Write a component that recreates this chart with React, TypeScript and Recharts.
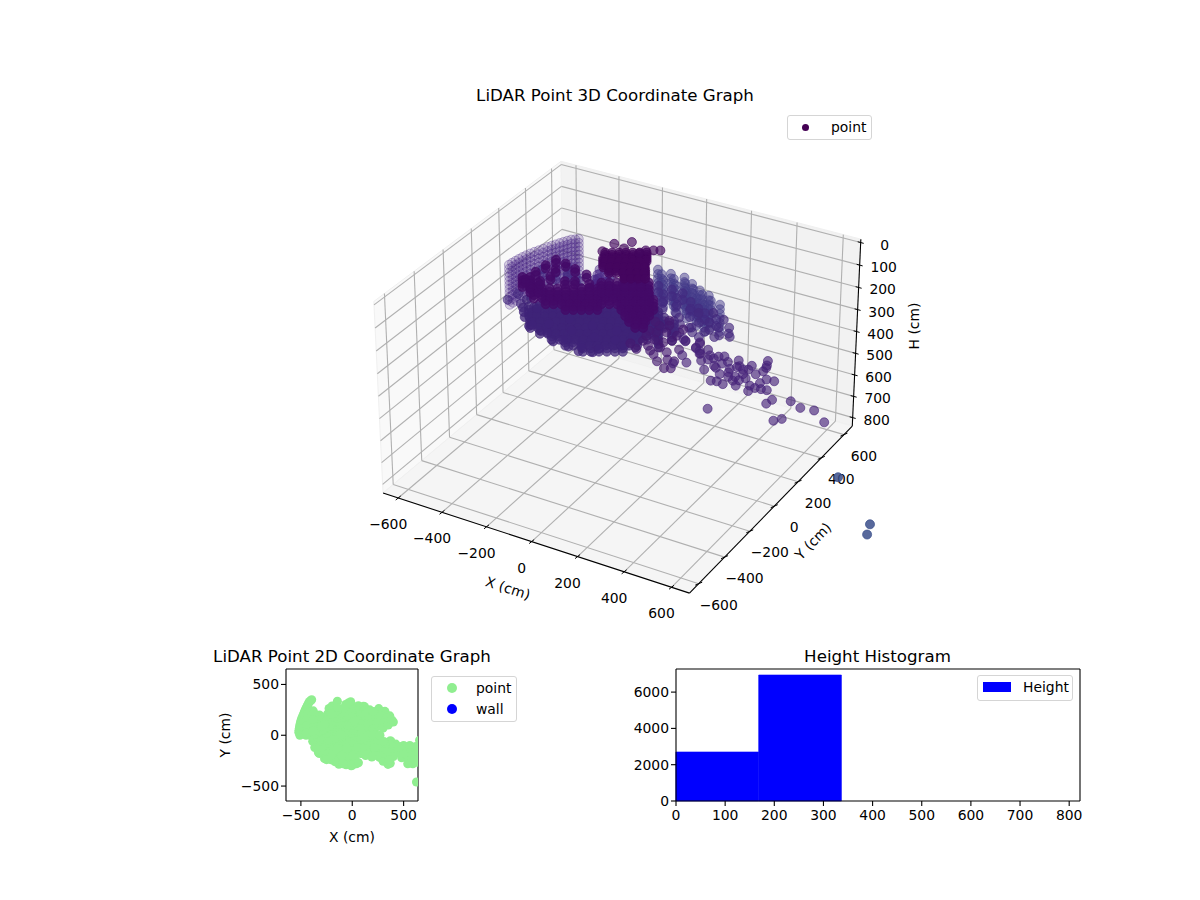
import { Bar, BarChart, ReferenceLine, Scatter, ScatterChart, XAxis, YAxis, ZAxis } from "recharts"

type XY = [number, number]

// height levels (cm) of every group of the LiDAR cloud
const westWallH = [120, 138, 156, 174, 192, 210, 228, 246, 264, 282, 300]
const eastWallH = [120, 140, 160, 180, 200, 220, 240]
const floorH = [275, 290, 305, 320]
const fillNorthH = [195, 225]
const fillMidH = [260]
const fillSouthH = [195]
const rimH = [180]
const eastLobeH = [230]
const lobeH = [170]
const strayH = [170]
const bulgeH = [150, 170, 190]
const ridgeH = [150, 165, 180, 195]
const fingerH = [160, 175]
const towerH = [45, 55, 65, 75, 85]
const towerTipH = [60]
const outlierH = [800]

// x / y footprints (cm)
const westWall: XY[] = [[-520, 30], [-518, 50], [-515, 70], [-512, 90], [-508, 110], [-503, 130], [-497, 150], [-490, 170], [-482, 190], [-474, 210], [-466, 230], [-458, 248], [-450, 265], [-442, 282], [-434, 298], [-426, 314], [-418, 330], [-405, 340], [-395, 350]]
const eastWall: XY[] = [[0, 285], [60, 280], [120, 280], [170, 250], [220, 220], [270, 200], [340, 160], [30, 260], [90, 250], [145, 240], [195, 215], [245, 195], [295, 170], [60, 220], [120, 210], [180, 190], [240, 160], [290, 130]]
const floor: XY[] = [
  [-425, 19], [-399, 34], [-372, 50], [-346, 65], [-319, 80], [-293, 96], [-267, 111], [-240, 126], [-214, 141], [-187, 157], [-161, 172], [-135, 187], [-108, 203], [-82, 218], [-55, 233], [-29, 248], [-3, 263],
  [-390, -13], [-364, 2], [-337, 18], [-311, 33], [-284, 48], [-258, 64], [-232, 79], [-205, 94], [-179, 109], [-152, 125], [-126, 140], [-100, 155], [-73, 171], [-47, 186], [-20, 201], [6, 216], [33, 232],
  [-373, -57], [-347, -42], [-320, -26], [-294, -11], [-267, 4], [-241, 20], [-215, 35], [-188, 50], [-162, 65], [-135, 81], [-109, 96], [-83, 111], [-56, 127], [-30, 142], [-3, 157], [23, 172], [50, 188], [76, 203],
  [-317, -77], [-291, -62], [-264, -46], [-238, -31], [-211, -16], [-185, 0], [-159, 15], [-132, 30], [-106, 45], [-79, 61], [-53, 76], [-27, 91], [0, 107], [26, 122], [53, 137], [79, 152],
  [-254, -94], [-228, -79], [-201, -63], [-175, -48], [-148, -33], [-122, -17], [-96, -2], [-69, 13], [-43, 28], [-16, 44], [10, 59], [36, 74], [63, 90],
  [-185, -107], [-159, -92], [-132, -76], [-106, -61], [-79, -46], [-53, -30], [-27, -15], [0, 0], [26, 15], [53, 31],
  [-103, -113], [-77, -98], [-50, -82], [-24, -67], [3, -52], [29, -37],
  [100, 100], [150, 130], [130, 60], [120, 200],
]
const fillNorth: XY[] = [
  [-60, 290], [0, 290], [60, 290], [110, 285],
  [-380, 240], [-320, 200], [-240, 210], [-190, 240], [-130, 240], [-70, 240], [-10, 240], [50, 240], [110, 240], [170, 240], [220, 210],
  [-460, 180], [-400, 180], [-340, 170], [-280, 170], [-220, 180], [-160, 180], [-100, 180], [-40, 180], [20, 180], [80, 180], [140, 180], [200, 180], [260, 190], [320, 170],
]
const fillMid: XY[] = [
  [-480, 120], [-420, 120], [-360, 120], [-300, 120], [-240, 120], [-180, 120], [-120, 120], [-60, 120], [0, 120], [60, 120], [120, 120],
  [-500, 60], [-440, 60], [-380, 60], [-320, 60], [-260, 60], [-200, 60], [-140, 60], [-80, 60], [-20, 60], [40, 60], [100, 60],
  [-510, 0], [-450, 0], [-390, 0], [-330, 0], [-270, 0], [-210, 0], [-150, 0], [-90, 0], [-30, 0], [30, 0], [90, 0],
]
const fillSouth: XY[] = [
  [-385, -60], [-325, -60], [-265, -60], [-205, -60], [-145, -60], [-85, -60], [-25, -60], [35, -60], [95, -60],
  [-365, -120], [-305, -120], [-245, -120], [-185, -120], [-125, -120], [-65, -120], [-5, -120], [55, -120], [115, -120],
  [-320, -180], [-260, -180], [-200, -180], [-140, -180], [-80, -180], [-20, -180], [40, -180], [100, -180], [160, -170],
  [-270, -230], [-210, -240], [-150, -240], [-90, -240], [-30, -240], [30, -240],
  [-130, -285], [-60, -290], [-10, -300], [40, -280],
]
const rim: XY[] = [[-330, -170], [-250, -240], [-170, -260], [-90, -280], [0, -295], [60, -270], [130, -200], [-300, -120], [-200, -200], [-100, -200], [0, -200], [80, -180], [-150, -130], [-50, -130], [50, -120], [120, -120]]
const eastLobe: XY[] = [[162, 163], [247, 168], [318, 235], [365, 191], [258, 262], [209, 234], [233, 115], [307, 140], [219, 63], [148, 111], [280, 190], [330, 170], [190, 120], [260, 90], [240, 120], [300, 120], [360, 120], [200, 60], [300, 70], [350, 100], [385, 150], [400, 130]]
const lobe: XY[] = [[181, -150], [216, -173], [265, -218], [301, -256], [348, -287], [370, -275], [356, -224], [328, -226], [261, -162], [253, -122], [193, -69], [164, -71], [173, -110], [275, -95], [272, -53], [319, -70], [377, -95], [375, -61], [411, -129], [226, -50], [178, -19], [192, 33], [150, 0], [210, 0], [270, 0], [300, -180], [240, -200], [330, -140], [215, -120], [150, -190], [190, -215]]
const stray: XY[] = [[424, -87], [371, -54], [413, -126], [379, -99], [320, -74], [306, -62], [458, -150], [473, -133], [482, -112], [517, -151], [530, -129], [512, -189], [481, -222], [561, -273], [546, -222], [568, -195], [582, -223], [577, -146], [582, -135], [605, -151], [622, -141], [661, -157], [604, -211], [628, -226], [636, -266], [643, -202], [680, -240], [704, -246], [704, -206], [727, -242], [749, -238], [713, -171], [743, -168], [675, -125], [673, -97], [655, -49], [667, -80], [693, -277], [791, -323], [797, -289], [860, -264], [911, -288], [962, -279], [1030, -334], [625, -460], [868, -415], [888, -389],
  [400, -110], [440, -170], [360, -170], [400, -210], [360, -240], [500, -100], [560, -100], [620, -110], [560, -170], [500, -180], [620, -180], [590, -280], [540, -280], [450, -120], [610, -240]]
const bulge: XY[] = [[-224, 220], [-171, 180], [-192, 150], [-196, 263], [-226, 263], [-150, 140], [-210, 180]]
const ridge: XY[] = [
  [-366, -38], [-339, -22], [-313, -7], [-286, 8], [-260, 24], [-234, 39], [-207, 54], [-181, 69], [-154, 85], [-128, 100], [-102, 115], [-75, 131], [-49, 146], [-22, 161], [4, 176],
  [-402, -6], [-375, 10], [-164, 132], [-138, 147], [-112, 162], [-85, 178], [-59, 193], [-32, 208], [-6, 224],
  [-303, -54], [-277, -39], [-250, -24], [-224, -8], [-198, 7], [-171, 22], [-145, 37], [-118, 53], [-92, 68], [-66, 83], [-39, 99], [-13, 114], [14, 129], [40, 144],
  [-214, -55], [-188, -40], [-161, -25], [-135, -10], [-108, 6], [-29, 52], [-3, 67], [24, 82], [50, 97], [77, 113],
  [-452, 18], [-426, 33], [-108, 217], [-82, 232], [-55, 248],
  [7, 19], [33, 34], [60, 50], [86, 65], [43, -14], [69, 1], [96, 17], [86, -42], [112, -27],
]
const finger: XY[] = [[-422, 220], [-256, 175], [-318, 192], [-373, 212], [-433, 161], [-439, 96], [-442, 24], [-370, 92], [-301, 87], [-384, 40], [-384, 154], [-208, 115], [-268, 106]]
const tower: XY[] = [
  [-177, 184], [-154, 197], [-131, 211], [-108, 224], [-85, 237], [-62, 251], [-39, 264],
  [-161, 141], [-138, 154], [-115, 168], [-92, 181], [-69, 194], [-46, 208], [-23, 221],
  [-118, 112], [-95, 125], [-72, 139], [-49, 152], [-26, 165], [-3, 179],
  [-45, 102], [-22, 115], [1, 129], [24, 142],
]
const towerTip: XY[] = [[-197, 288], [-145, 335], [-206, 212], [-64, 302], [-15, 330], [-38, 317], [-75, 269], [-145, 274]]
const outlier: XY[] = [[1071, 15], [1092, -53], [821, 250]]
const wallPoints: XY[] = []

// axis ticks
const xTicks3d = [-600, -400, -200, 0, 200, 400, 600]
const yTicks3d = [-600, -400, -200, 0, 200, 400, 600]
const hTicks3d = [0, 100, 200, 300, 400, 500, 600, 700, 800]
const ticks2d = [-500, 0, 500]
const histXTicks = [0, 100, 200, 300, 400, 500, 600, 700, 800]
const histYTicks = [0, 2000, 4000, 6000]

// histogram
const binCenters = [84, 252.5, 421, 590]
const binCounts = [2700, 6942, 0, 0]

const FONT = "'DejaVu Sans', sans-serif"
const X_MIN = -670
const X_MAX = 675
const Y_MIN = -670
const Y_MAX = 675
const H_TOP = -15
const H_BOTTOM = 840

// same camera as mplot3d: elev 30, azim -60
function project(x: number, y: number, h: number) {
  const dx = -0.595 + (1.19 * (x - X_MIN)) / (X_MAX - X_MIN)
  const dy = -0.595 + (1.19 * (y - Y_MIN)) / (Y_MAX - Y_MIN)
  const dz = -0.446 + (0.746 * (H_BOTTOM - h)) / (H_BOTTOM - H_TOP)
  const xv = 0.866 * dx + 0.5 * dy
  const yv = -0.25 * dx + 0.433 * dy + 0.866 * dz
  const zv = 0.433 * dx - 0.75 * dy + 0.5 * dz
  const w = 10 - zv
  return { vx: 622 + (2950 * xv) / w, vy: 347.5 - (2950 * yv) / w }
}

const stack = (xy: XY[], levels: number[]) =>
  levels.flatMap((h) => xy.map(([x, y]) => project(x, y, h)))

const cloud3d = [
  { name: "westWall", data: stack(westWall, westWallH), color: "#4b2a88", fill: 0.2, stroke: 0.4 },
  { name: "eastWall", data: stack(eastWall, eastWallH), color: "#433a8a", fill: 0.5, stroke: 0.6 },
  { name: "fillNorth", data: stack(fillNorth, fillNorthH), color: "#432a80", fill: 0.6, stroke: 0.7 },
  { name: "fillMid", data: stack(fillMid, fillMidH), color: "#41267c", fill: 0.6, stroke: 0.7 },
  { name: "fillSouth", data: stack(fillSouth, fillSouthH), color: "#3f2378", fill: 0.75, stroke: 0.8 },
  { name: "floor", data: stack(floor, floorH), color: "#3f2378", fill: 0.7, stroke: 0.8 },
  { name: "rim", data: stack(rim, rimH), color: "#3f2378", fill: 0.75, stroke: 0.8 },
  { name: "eastLobe", data: stack(eastLobe, eastLobeH), color: "#43287c", fill: 0.65, stroke: 0.75 },
  { name: "lobe", data: stack(lobe, lobeH), color: "#451a70", fill: 0.65, stroke: 0.75 },
  { name: "stray", data: stack(stray, strayH), color: "#46237a", fill: 0.65, stroke: 0.75 },
  { name: "bulge", data: stack(bulge, bulgeH), color: "#4b2a88", fill: 0.45, stroke: 0.6 },
  { name: "ridge", data: stack(ridge, ridgeH), color: "#440a68", fill: 0.8, stroke: 0.85 },
  { name: "finger", data: stack(finger, fingerH), color: "#440a68", fill: 0.8, stroke: 0.85 },
  { name: "tower", data: stack(tower, towerH), color: "#44065f", fill: 0.75, stroke: 0.85 },
  { name: "towerTip", data: stack(towerTip, towerTipH), color: "#44065f", fill: 0.65, stroke: 0.8 },
  { name: "outlier", data: stack(outlier, outlierH), color: "#3b4f8b", fill: 0.85, stroke: 0.9 },
]

const footprint = [westWall, eastWall, fillNorth, fillMid, fillSouth, floor, rim, eastLobe, lobe, stray, bulge, ridge, finger, tower, towerTip, outlier]
  .flat()
  .map(([x, y]) => ({ x, y }))

const histData = binCenters.map((center, i) => ({ center, count: binCounts[i] }))

const minus = (v: number) => `${v}`.replace("-", "\u2212")
const GRID = "#b0b0b0"

function line3d(a: number[], b: number[], color: string, width: number, key: string) {
  const p = project(a[0], a[1], a[2])
  const q = project(b[0], b[1], b[2])
  return (
    <ReferenceLine
      key={key}
      segment={[
        { x: p.vx, y: p.vy },
        { x: q.vx, y: q.vy },
      ]}
      stroke={color}
      strokeWidth={width}
      ifOverflow="visible"
    />
  )
}

function tickMark(c: { vx: number; vy: number }, ox: number, oy: number, key: string) {
  return (
    <ReferenceLine
      key={key}
      segment={[
        { x: c.vx - ox, y: c.vy - oy },
        { x: c.vx + ox, y: c.vy + oy },
      ]}
      stroke="#000"
      strokeWidth={1}
      ifOverflow="visible"
    />
  )
}

function pane(corners: number[][], fill: string) {
  const points = corners.map((c) => project(c[0], c[1], c[2])).map((p) => `${p.vx},${p.vy}`).join(" ")
  return <polygon points={points} fill={fill} stroke="#f0f0f0" strokeWidth={1} />
}

function Label3d({ x, y, text, size = 13.9, rotate = 0 }: { x: number; y: number; text: string; size?: number; rotate?: number }) {
  return (
    <text x={x} y={y} textAnchor="middle" dominantBaseline="central" fontFamily={FONT} fontSize={size} fill="#000" transform={rotate ? `rotate(${rotate} ${x} ${y})` : undefined}>
      {text}
    </text>
  )
}

function LegendBox({ left, top, width, height, children }: { left: number; top: number; width: number; height: number; children: React.ReactNode }) {
  return (
    <div style={{ position: "absolute", left, top, width, height, boxSizing: "border-box", border: "1px solid #d5d5d5", borderRadius: 3, background: "rgba(255,255,255,0.8)" }}>
      {children}
    </div>
  )
}

function LegendRow({ y, x, text, color, keyLeft, keyWidth = 9, keyHeight = 9, round = true }: { y: number; x: number; text: string; color: string; keyLeft: number; keyWidth?: number; keyHeight?: number; round?: boolean }) {
  return (
    <>
      <div style={{ position: "absolute", left: keyLeft, top: y - keyHeight / 2, width: keyWidth, height: keyHeight, borderRadius: round ? "50%" : 0, background: color }} />
      <div style={{ position: "absolute", left: x, top: y - 9, lineHeight: "18px", fontFamily: FONT, fontSize: 13.9, color: "#000" }}>{text}</div>
    </>
  )
}

const axisProps = {
  stroke: "#000",
  strokeWidth: 1.1,
  tickSize: 5,
  tickMargin: 4,
  tick: { fill: "#000", fontSize: 13.9, fontFamily: FONT },
}

export default function App() {
  return (
    <div style={{ position: "absolute", left: 0, top: 0, width: 1200, height: 900, background: "#fff", overflow: "hidden" }}>
      <div style={{ position: "absolute", left: 0, top: 0 }}>
        <ScatterChart width={1200} height={900} margin={{ top: 0, right: 0, bottom: 0, left: 0 }}>
          <XAxis type="number" dataKey="vx" domain={[0, 1200]} hide />
          <YAxis type="number" dataKey="vy" domain={[0, 900]} reversed hide />
          <ZAxis range={[24, 24]} />
          {pane([[X_MIN, Y_MIN, H_BOTTOM], [X_MIN, Y_MAX, H_BOTTOM], [X_MIN, Y_MAX, H_TOP], [X_MIN, Y_MIN, H_TOP]], "#f9f9f9")}
          {pane([[X_MIN, Y_MAX, H_BOTTOM], [X_MAX, Y_MAX, H_BOTTOM], [X_MAX, Y_MAX, H_TOP], [X_MIN, Y_MAX, H_TOP]], "#f2f2f2")}
          {pane([[X_MIN, Y_MIN, H_BOTTOM], [X_MAX, Y_MIN, H_BOTTOM], [X_MAX, Y_MAX, H_BOTTOM], [X_MIN, Y_MAX, H_BOTTOM]], "#f5f5f5")}
          {xTicks3d.flatMap((x) => [
            line3d([x, Y_MIN, H_BOTTOM], [x, Y_MAX, H_BOTTOM], GRID, 1.1, `xf${x}`),
            line3d([x, Y_MAX, H_BOTTOM], [x, Y_MAX, H_TOP], GRID, 1.1, `xb${x}`),
          ])}
          {yTicks3d.flatMap((y) => [
            line3d([X_MIN, y, H_BOTTOM], [X_MAX, y, H_BOTTOM], GRID, 1.1, `yf${y}`),
            line3d([X_MIN, y, H_BOTTOM], [X_MIN, y, H_TOP], GRID, 1.1, `yl${y}`),
          ])}
          {hTicks3d.flatMap((h) => [
            line3d([X_MIN, Y_MIN, h], [X_MIN, Y_MAX, h], GRID, 1.1, `hl${h}`),
            line3d([X_MIN, Y_MAX, h], [X_MAX, Y_MAX, h], GRID, 1.1, `hb${h}`),
          ])}
          {line3d([X_MIN, Y_MIN, H_BOTTOM], [X_MAX, Y_MIN, H_BOTTOM], "#000", 1.1, "xAxis")}
          {line3d([X_MAX, Y_MIN, H_BOTTOM], [X_MAX, Y_MAX, H_BOTTOM], "#000", 1.1, "yAxis")}
          {line3d([X_MAX, Y_MAX, H_BOTTOM], [X_MAX, Y_MAX, H_TOP], "#000", 1.1, "hAxis")}
          {xTicks3d.map((x) => tickMark(project(x, Y_MIN, H_BOTTOM), 2.5, -2, `xt${x}`))}
          {yTicks3d.map((y) => tickMark(project(X_MAX, y, H_BOTTOM), 3.5, -1.5, `yt${y}`))}
          {hTicks3d.map((h) => tickMark(project(X_MAX, Y_MAX, h), 3, 0.8, `ht${h}`))}
          {cloud3d.map((g) => (
            <Scatter
              key={g.name}
              name={g.name}
              data={g.data}
              fill={g.color}
              stroke={g.color}
              strokeWidth={0.8}
              fillOpacity={g.fill}
              strokeOpacity={g.stroke}
              isAnimationActive={false}
            />
          ))}
          {xTicks3d.map((x) => {
            const p = project(x, Y_MIN, H_BOTTOM)
            return <Label3d key={x} x={p.vx - 10} y={p.vy + 26} text={minus(x)} />
          })}
          {yTicks3d.map((y) => {
            const p = project(X_MAX, y, H_BOTTOM)
            return <Label3d key={y} x={p.vx + 20} y={p.vy + 21} text={minus(y)} />
          })}
          {hTicks3d.map((h) => {
            const p = project(X_MAX, Y_MAX, h)
            return <Label3d key={h} x={p.vx + 24} y={p.vy + 2} text={minus(h)} />
          })}
          <Label3d x={508} y={588} text="X (cm)" rotate={18} />
          <Label3d x={813} y={541} text="Y (cm)" rotate={-46} />
          <Label3d x={914} y={326} text="H (cm)" rotate={-90} />
          <Label3d x={615} y={95} text="LiDAR Point 3D Coordinate Graph" size={16.67} />
          <Label3d x={352} y={656} text="LiDAR Point 2D Coordinate Graph" size={16.67} />
          <Label3d x={877.5} y={656} text="Height Histogram" size={16.67} />
          <Label3d x={352} y={837} text="X (cm)" />
          <Label3d x={225} y={735} text="Y (cm)" rotate={-90} />
        </ScatterChart>
      </div>

      <LegendBox left={787} top={115} width={85} height={25}>
        <LegendRow y={11} x={43} text="point" color="#440154" keyLeft={14} keyWidth={7} keyHeight={7} />
      </LegendBox>

      <div style={{ position: "absolute", left: 200, top: 640 }}>
        <ScatterChart width={240} height={220} margin={{ top: 29, right: 22, bottom: 0, left: 0 }}>
          <XAxis {...axisProps} type="number" dataKey="x" domain={[-645, 640]} ticks={ticks2d} tickFormatter={minus} allowDataOverflow height={59} />
          <YAxis {...axisProps} type="number" dataKey="y" domain={[-647, 652]} ticks={ticks2d} tickFormatter={minus} allowDataOverflow width={86} tickMargin={2} />
          <ZAxis range={[72, 72]} />
          <Scatter name="point" data={footprint} fill="#90ee90" isAnimationActive={false} />
          <Scatter name="wall" data={wallPoints.map(([x, y]) => ({ x, y }))} fill="#0000ff" isAnimationActive={false} />
          <ReferenceLine x={640} stroke="#000" strokeWidth={1.1} />
          <ReferenceLine y={652} stroke="#000" strokeWidth={1.1} />
        </ScatterChart>
      </div>
      <LegendBox left={431} top={676} width={86} height={46}>
        <LegendRow y={11} x={44} text="point" color="#90ee90" keyLeft={15} keyWidth={10} keyHeight={10} />
        <LegendRow y={32} x={44} text="wall" color="#0000ff" keyLeft={15} keyWidth={10} keyHeight={10} />
      </LegendBox>

      <div style={{ position: "absolute", left: 620, top: 640 }}>
        <BarChart width={480} height={220} data={histData} margin={{ top: 29, right: 20, bottom: 0, left: 0 }}>
          <XAxis {...axisProps} type="number" dataKey="center" domain={[0, 822]} ticks={histXTicks} height={59} />
          <YAxis {...axisProps} type="number" domain={[0, 7273]} ticks={histYTicks} width={56} tickMargin={2} />
          <Bar dataKey="count" name="Height" fill="#0000ff" stroke="#0000ff" strokeWidth={0.6} barSize={82.7} isAnimationActive={false} />
          <ReferenceLine x={822} stroke="#000" strokeWidth={1.1} />
          <ReferenceLine y={7273} stroke="#000" strokeWidth={1.1} />
        </BarChart>
      </div>
      <LegendBox left={977} top={675} width={96} height={26}>
        <LegendRow y={11} x={45} text="Height" color="#0000ff" keyLeft={5} keyWidth={28} keyHeight={10} round={false} />
      </LegendBox>
    </div>
  )
}
